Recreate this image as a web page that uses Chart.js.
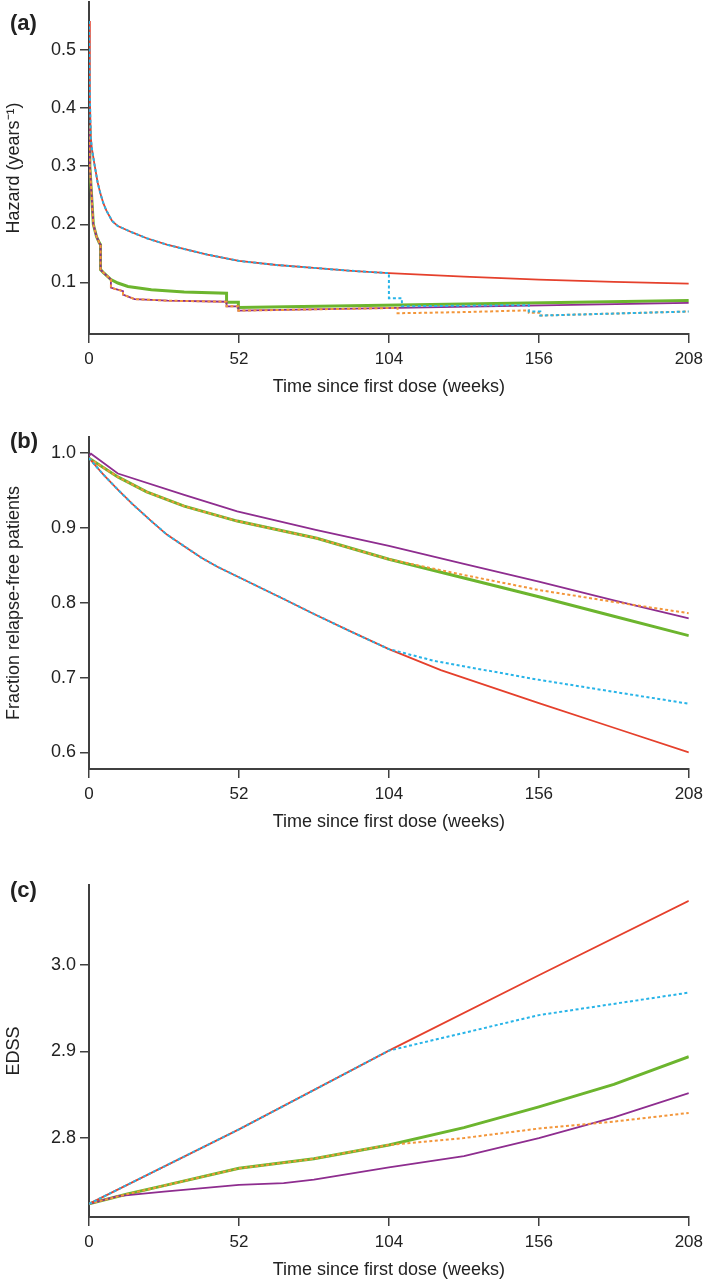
<!DOCTYPE html>
<html>
<head>
  <meta charset="utf-8">
  <script src="https://cdn.jsdelivr.net/npm/chart.js"></script>
  <style>
    body { margin: 0; background: #fff; }
    canvas { display: block; }
  </style>
</head>
<body>
  <canvas id="hazardChart" width="709" height="398"></canvas>
  <canvas id="relapseChart" width="709" height="435"></canvas>
  <canvas id="edssChart" width="709" height="448"></canvas>

  <script>
    // Спільна вісь часу
    const weekTicks = [0, 52, 104, 156, 208];

    // (a) Hazard
    const hazardTicks = [0.1, 0.2, 0.3, 0.4, 0.5];
    const hazRedWeeks = [0, 0.3, 0.6, 1, 2, 3, 4, 5, 6, 8, 10, 15, 20, 27, 35, 41, 52, 65, 78, 91, 104, 130, 156, 182, 208];
    const hazRed      = [0.55, 0.42, 0.35, 0.33, 0.30, 0.272, 0.252, 0.236, 0.224, 0.206, 0.197, 0.186, 0.176, 0.165, 0.155, 0.148, 0.137, 0.130, 0.125, 0.120, 0.116, 0.110, 0.105, 0.101, 0.098];
    const hazCyanWeeks = [0, 0.3, 0.6, 1, 2, 3, 4, 5, 6, 8, 10, 15, 20, 27, 35, 41, 52, 65, 78, 91, 104, 104, 108.5, 108.5, 152.5, 152.5, 156.5, 156.5, 208];
    const hazCyan      = [0.55, 0.42, 0.35, 0.33, 0.30, 0.272, 0.252, 0.236, 0.224, 0.206, 0.197, 0.186, 0.176, 0.165, 0.155, 0.148, 0.137, 0.130, 0.125, 0.120, 0.116, 0.073, 0.073, 0.059, 0.061, 0.050, 0.050, 0.043, 0.050];
    const hazGreenWeeks = [0, 0.3, 1.5, 2.6, 3.6, 4, 4, 5, 7.6, 10, 13.5, 21.6, 33, 47.7, 47.7, 51.8, 51.8, 208];
    const hazGreen      = [0.37, 0.30, 0.20, 0.179, 0.168, 0.165, 0.122, 0.117, 0.105, 0.099, 0.093, 0.0875, 0.0835, 0.0815, 0.066, 0.066, 0.057, 0.069];
    const hazPurpleWeeks = [0, 0.3, 1.5, 2.6, 3.6, 4, 4, 5, 7.6, 7.6, 9, 11.8, 11.8, 15.8, 27.3, 47.7, 47.7, 51.8, 51.8, 208];
    const hazPurple      = [0.37, 0.30, 0.20, 0.179, 0.168, 0.165, 0.122, 0.117, 0.105, 0.091, 0.089, 0.085, 0.079, 0.0714, 0.0686, 0.0668, 0.059, 0.059, 0.0514, 0.065];
    const hazOrangeWeeks = [0, 0.3, 1.5, 2.6, 3.6, 4, 4, 5, 7.6, 7.6, 9, 11.8, 11.8, 15.8, 27.3, 47.7, 47.7, 51.8, 51.8, 107, 107, 130, 152.5, 152.5, 156.5, 156.5, 208];
    const hazOrange      = [0.37, 0.30, 0.20, 0.179, 0.168, 0.165, 0.122, 0.117, 0.105, 0.091, 0.089, 0.085, 0.079, 0.0714, 0.0686, 0.0668, 0.059, 0.059, 0.0514, 0.0562, 0.047, 0.049, 0.052, 0.048, 0.048, 0.043, 0.050];

    // (b) Fraction relapse-free patients
    const relapseTicks = [0.6, 0.7, 0.8, 0.9, 1.0];
    const relRedWeeks = [0, 5, 10, 15, 21.6, 27, 33, 39, 44.5, 52, 60, 67.5, 78, 90.5, 104, 122, 156, 182, 208];
    const relRed      = [0.993, 0.971, 0.951, 0.932, 0.909, 0.891, 0.8755, 0.860, 0.848, 0.834, 0.819, 0.805, 0.785, 0.762, 0.738, 0.710, 0.666, 0.633, 0.600];
    const relCyanWeeks = [0, 5, 10, 15, 21.6, 27, 33, 39, 44.5, 52, 60, 67.5, 78, 90.5, 104, 120, 156, 208];
    const relCyan      = [0.993, 0.971, 0.951, 0.932, 0.909, 0.891, 0.8755, 0.860, 0.848, 0.834, 0.819, 0.805, 0.785, 0.762, 0.738, 0.722, 0.697, 0.665];
    const relGreenWeeks = [0, 10, 20, 33, 51.4, 79, 104, 130, 156, 182, 208];
    const relGreen      = [0.993, 0.968, 0.948, 0.929, 0.909, 0.886, 0.858, 0.833, 0.808, 0.782, 0.756];
    const relOrangeWeeks = [0, 10, 20, 33, 51.4, 79, 104, 130, 156, 182, 208];
    const relOrange      = [0.993, 0.968, 0.948, 0.929, 0.909, 0.886, 0.858, 0.837, 0.817, 0.801, 0.786];
    const relPurpleWeeks = [0, 0.7, 10, 33, 51.4, 79, 104, 130, 156, 182, 208];
    const relPurple      = [0.996, 0.999, 0.9725, 0.944, 0.922, 0.897, 0.876, 0.852, 0.828, 0.803, 0.779];

    // (c) EDSS
    const edssTicks = [2.8, 2.9, 3.0];
    const edssRedWeeks = [0, 52, 104, 156, 208];
    const edssRed      = [2.724, 2.810, 2.901, 2.988, 3.074];
    const edssCyanWeeks = [0, 52, 104, 156, 208];
    const edssCyan      = [2.724, 2.810, 2.901, 2.942, 2.968];
    const edssGreenWeeks = [0, 13, 26, 52, 78, 104, 130, 156, 182, 208];
    const edssGreen      = [2.724, 2.735, 2.745, 2.765, 2.776, 2.792, 2.812, 2.836, 2.862, 2.894];
    const edssOrangeWeeks = [0, 13, 26, 52, 78, 104, 130, 156, 182, 208];
    const edssOrange      = [2.724, 2.735, 2.745, 2.765, 2.776, 2.792, 2.800, 2.811, 2.819, 2.829];
    const edssPurpleWeeks = [0, 10, 26, 52, 67.5, 78, 104, 130, 156, 182, 208];
    const edssPurple      = [2.724, 2.733, 2.738, 2.746, 2.748, 2.752, 2.766, 2.779, 2.800, 2.824, 2.852];

    const FONT = '"Liberation Sans", Arial, sans-serif';
    const INK = '#222222';
    const AXIS = '#404040';

    Chart.defaults.font.family = FONT;
    Chart.defaults.color = INK;

    // Пари (тиждень, значення) -> точки
    function toPoints(weeks, values) {
      return weeks.map((w, i) => ({ x: w, y: values[i] }));
    }

    // Набори ліній у порядку малювання: перший — зверху
    function makeDatasets(s) {
      return [
        { data: toPoints(s.cyan[0], s.cyan[1]), borderColor: '#27b4e8', borderWidth: 2, borderDash: [3, 2.5] },
        { data: toPoints(s.orange[0], s.orange[1]), borderColor: '#f3963a', borderWidth: 2, borderDash: [3, 2.5] },
        { data: toPoints(s.red[0], s.red[1]), borderColor: '#e5402c', borderWidth: 1.8 },
        { data: toPoints(s.purple[0], s.purple[1]), borderColor: '#8e2d8f', borderWidth: 1.8 },
        { data: toPoints(s.green[0], s.green[1]), borderColor: '#6cb52e', borderWidth: 3 }
      ];
    }

    // Підпис панелі (a), (b), (c)
    const panelLabel = {
      id: 'panelLabel',
      afterDraw(chart, args, opts) {
        const ctx = chart.ctx;
        ctx.save();
        ctx.font = 'bold 22px ' + FONT;
        ctx.fillStyle = INK;
        ctx.textBaseline = 'middle';
        ctx.fillText(opts.text, opts.x, opts.y);
        ctx.restore();
      }
    };

    function makeChart(id, cfg) {
      return new Chart(document.getElementById(id), {
        type: 'line',
        data: { datasets: makeDatasets(cfg.series) },
        options: {
          responsive: false,
          animation: false,
          devicePixelRatio: 1,
          layout: { padding: { top: cfg.padTop, right: 16, left: 0, bottom: 0 } },
          elements: { point: { radius: 0 }, line: { tension: 0, borderCapStyle: 'butt' } },
          plugins: {
            legend: { display: false },
            tooltip: { enabled: false },
            panelLabel: { text: cfg.label, x: 10, y: cfg.labelY }
          },
          scales: {
            x: {
              type: 'linear',
              min: 0,
              max: 208,
              afterBuildTicks: s => { s.ticks = weekTicks.map(v => ({ value: v })); },
              afterFit: s => { s.height = 64; },
              grid: { drawOnChartArea: false, drawTicks: true, tickLength: 9, lineWidth: 1.5, color: AXIS },
              border: { display: true, color: AXIS, width: 2 },
              ticks: { padding: 6, font: { size: 17 }, color: INK, maxRotation: 0, autoSkip: false, callback: v => v },
              title: { display: true, text: 'Time since first dose (weeks)', font: { size: 18 }, color: INK, padding: { top: 0, bottom: 0 } }
            },
            y: {
              min: cfg.yMin,
              max: cfg.yMax,
              afterBuildTicks: s => { s.ticks = cfg.ticks.map(v => ({ value: v })); },
              // ширина осі фіксована, верхній відступ під мітки не потрібен
              afterFit: s => { s.width = 89; s.paddingTop = 0; s.paddingBottom = 0; },
              grid: { drawOnChartArea: false, drawTicks: true, tickLength: 9, lineWidth: 1.5, color: AXIS },
              border: { display: true, color: AXIS, width: 2 },
              ticks: { padding: 4, font: { size: 18 }, color: INK, callback: v => v.toFixed(1) },
              title: { display: true, text: cfg.yTitle, font: { size: 18 }, color: INK, padding: { top: 3, bottom: 0 } }
            }
          }
        },
        plugins: [panelLabel]
      });
    }

    makeChart('hazardChart', {
      label: '(a)', labelY: 24, padTop: 2,
      yMin: 0.0113, yMax: 0.5825, ticks: hazardTicks,
      yTitle: 'Hazard (years\u207B\u00B9)',
      series: {
        red: [hazRedWeeks, hazRed], cyan: [hazCyanWeeks, hazCyan], green: [hazGreenWeeks, hazGreen],
        purple: [hazPurpleWeeks, hazPurple], orange: [hazOrangeWeeks, hazOrange]
      }
    });

    makeChart('relapseChart', {
      label: '(b)', labelY: 44, padTop: 39,
      yMin: 0.5779, yMax: 1.0213, ticks: relapseTicks,
      yTitle: 'Fraction relapse-free patients',
      series: {
        red: [relRedWeeks, relRed], cyan: [relCyanWeeks, relCyan], green: [relGreenWeeks, relGreen],
        purple: [relPurpleWeeks, relPurple], orange: [relOrangeWeeks, relOrange]
      }
    });

    makeChart('edssChart', {
      label: '(c)', labelY: 58, padTop: 52,
      yMin: 2.7088, yMax: 3.0923, ticks: edssTicks,
      yTitle: 'EDSS',
      series: {
        red: [edssRedWeeks, edssRed], cyan: [edssCyanWeeks, edssCyan], green: [edssGreenWeeks, edssGreen],
        purple: [edssPurpleWeeks, edssPurple], orange: [edssOrangeWeeks, edssOrange]
      }
    });
  </script>
</body>
</html>
